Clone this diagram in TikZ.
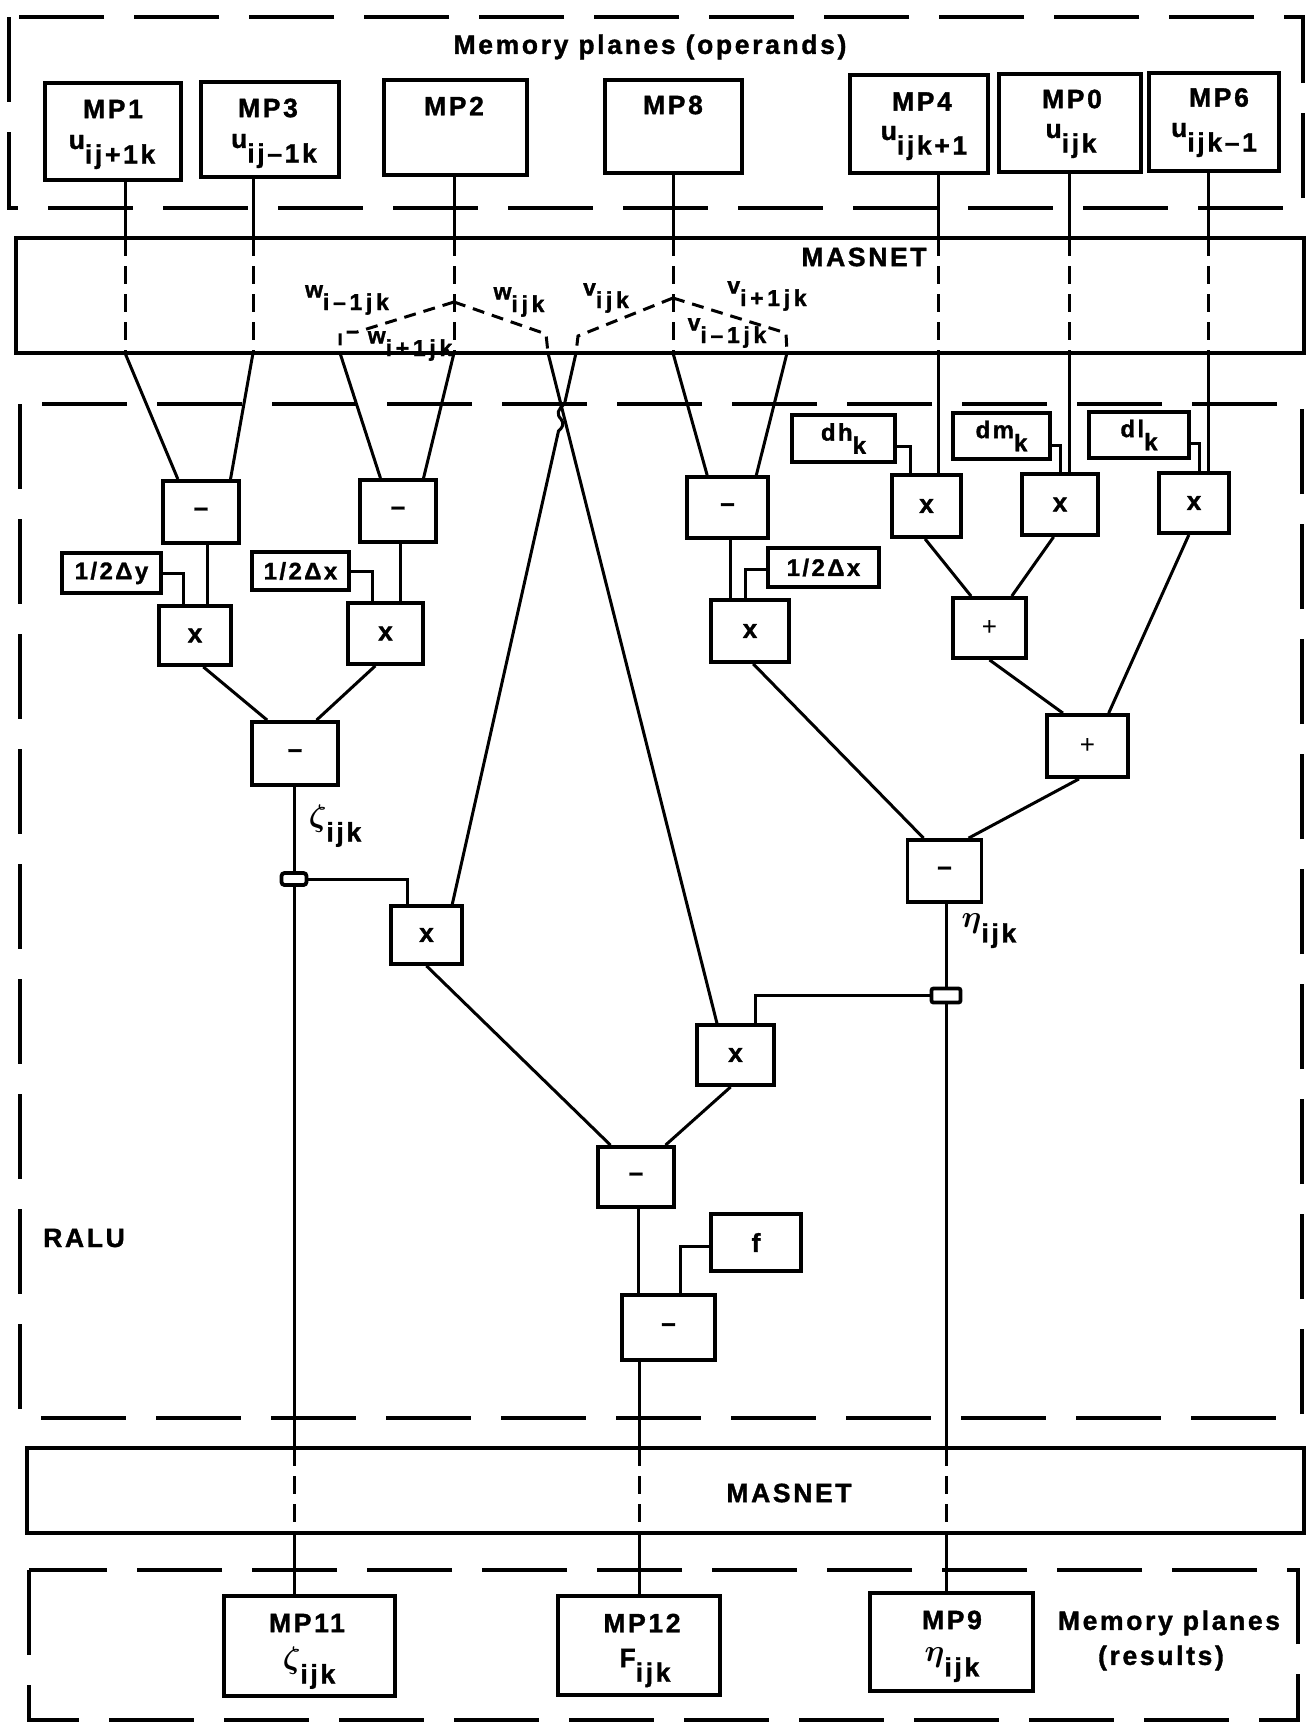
\documentclass[tikz,border=0pt]{standalone}
\usepackage{fontspec}
\usepackage{bm}
\usepackage{graphicx}
\setmainfont{Liberation Sans}[LetterSpace=10, BoldFeatures={FakeBold=1.3}]
\usetikzlibrary{calc}
\newcommand\sbs[2]{#1\raisebox{-0.55em}{#2}}
\newcommand\gk[1]{\scalebox{1.25}{$\bm{#1}$}}
\tikzset{
  box/.style={draw, line width=3.8pt, inner sep=0pt},
  op/.style={box, font=\fontsize{26}{26}\selectfont\bfseries},
  cst/.style={box, font=\fontsize{24}{24}\selectfont\bfseries},
  txt/.style={inner sep=0pt, font=\fontsize{26.5}{26.5}\selectfont\bfseries},
  ftxt/.style={inner sep=0pt, font=\fontsize{23}{23}\selectfont\bfseries\addfontfeature{LetterSpace=16}},
  wire/.style={line width=3pt},
  mwire/.style={line width=3pt, dash pattern=on 18pt off 10pt},
  fwire/.style={line width=3pt, dash pattern=on 12pt off 8pt},
  frame/.style={line width=4pt, dash pattern=on 85pt off 30pt},
  junc/.style={draw, line width=3.8pt, inner sep=0pt, rounded corners=3pt},
}
\begin{document}
\begin{tikzpicture}[x=1pt,y=-1pt]
\useasboundingbox (0,0) rectangle (1309,1725);
\fill[white] (0,0) rectangle (1309,1725);

% ---------- top: memory planes (operands)
\draw[frame] (9,17) rectangle (1303,208);
\node[txt] (title) at (650,47) {Memory planes (operands)};

\node[box, minimum width=136pt, minimum height=97pt] (mp1) at (113,131.5) {};
\node[box, minimum width=138pt, minimum height=95pt] (mp3) at (270,129.5) {};
\node[box, minimum width=143pt, minimum height=95pt] (mp2) at (455.5,127.5) {};
\node[box, minimum width=137pt, minimum height=93pt] (mp8) at (673.5,126.5) {};
\node[box, minimum width=138pt, minimum height=98pt] (mp4) at (919,124) {};
\node[box, minimum width=142pt, minimum height=98pt] (mp0) at (1070,123) {};
\node[box, minimum width=130pt, minimum height=98pt] (mp6) at (1214,122) {};

\node[txt] (t1) at (113,109) {MP1};
\node[txt] (s1) at (112,152) {\sbs{u}{ij+1k}};
\node[txt] (t3) at (268,108) {MP3};
\node[txt] (s3) at (274,151) {\sbs{u}{ij–1k}};
\node[txt] (t2) at (454,106) {MP2};
\node[txt] (t8) at (673,105) {MP8};
\node[txt] (t4) at (922,101.5) {MP4};
\node[txt] (s4) at (924,143) {\sbs{u}{ijk+1}};
\node[txt] (t0) at (1072,99) {MP0};
\node[txt] (s0) at (1071,141) {\sbs{u}{ijk}};
\node[txt] (t6) at (1219,97.5) {MP6};
\node[txt] (s6) at (1214,140) {\sbs{u}{ijk–1}};

% ---------- MASNET (top)
\node[box, minimum width=1288pt, minimum height=115pt] (net1) at (660,295.5) {};
\node[txt] (net1lab) at (864,257) {MASNET};

\coordinate (a1) at (125,238);  \coordinate (b1) at (125,353);
\coordinate (a2) at (253,238);  \coordinate (b2) at (253,353);
\coordinate (a3) at (454,238);  \coordinate (b3) at (454,353);
\coordinate (a4) at (673,238);  \coordinate (b4) at (673,353);
\coordinate (a5) at (938,238);  \coordinate (b5) at (938,353);
\coordinate (a6) at (1069,238); \coordinate (b6) at (1069,353);
\coordinate (a7) at (1208,238); \coordinate (b7) at (1208,353);
\coordinate (wap) at (454,302);
\coordinate (vap) at (673,298);
\coordinate (bw1) at (340,353);
\coordinate (bw2) at (548,353);
\coordinate (bv1) at (576,353);
\coordinate (bv2) at (787,353);

\draw[wire] (mp1.south -| a1) -- (a1);
\draw[wire] (mp3.south -| a2) -- (a2);
\draw[wire] (mp2.south -| a3) -- (a3);
\draw[wire] (mp8.south -| a4) -- (a4);
\draw[wire] (mp4.south -| a5) -- (a5);
\draw[wire] (mp0.south -| a6) -- (a6);
\draw[wire] (mp6.south -| a7) -- (a7);

\foreach \i in {1,2,3,4,5,6,7} { \draw[mwire] (a\i) -- (b\i); }

% forks
\draw[fwire] (wap) -- (357,332) -- (340,332) -- (bw1);
\draw[fwire] (wap) -- (546,334) -- (bw2);
\draw[fwire] (vap) -- (578,336) -- (bv1);
\draw[fwire] (vap) -- (786,333) -- (bv2);

\node[ftxt] (lw1) at (347,300) {\sbs{w}{i–1jk}};
\node[ftxt] (lw2) at (519,302) {\sbs{w}{ijk}};
\node[ftxt] (lw3) at (410,346) {\sbs{w}{i+1jk}};
\node[ftxt] (lv1) at (606,298) {\sbs{v}{ijk}};
\node[ftxt] (lv2) at (767,296) {\sbs{v}{i+1jk}};
\node[ftxt] (lv3) at (727,333) {\sbs{v}{i–1jk}};

% ---------- RALU
\draw[frame] (20,404) rectangle (1302,1418);
\node[txt] (ralu) at (84,1238) {RALU};

\node[op, minimum width=76pt, minimum height=62pt] (A) at (201,512) {–};
\node[op, minimum width=76pt, minimum height=62pt] (B) at (398,511) {–};
\node[cst, minimum width=99pt, minimum height=40pt] (Dy) at (111.5,573) {1/2Δy};
\node[op, minimum width=72pt, minimum height=59pt] (C) at (195,635.5) {x};
\node[cst, minimum width=97pt, minimum height=38pt] (Dx) at (300.5,571) {1/2Δx};
\node[op, minimum width=75pt, minimum height=61pt] (D) at (385.5,633.5) {x};
\node[op, minimum width=86pt, minimum height=63pt] (E) at (295,753.5) {–};
\node[op, minimum width=81pt, minimum height=61pt] (F) at (727.5,507.5) {–};
\node[cst, minimum width=103pt, minimum height=47pt] (dh) at (843.5,438.5) {\raisebox{0.25em}{\sbs{dh}{k}}};
\node[op, minimum width=69pt, minimum height=62pt] (G) at (926.5,506) {x};
\node[cst, minimum width=97pt, minimum height=46pt] (dm) at (1001.5,436) {\raisebox{0.25em}{\sbs{dm}{k}}};
\node[op, minimum width=76pt, minimum height=61pt] (H) at (1060,504.5) {x};
\node[cst, minimum width=100pt, minimum height=46pt] (dl) at (1139,435) {\raisebox{0.25em}{\sbs{dl}{k}}};
\node[op, minimum width=70pt, minimum height=60pt] (I) at (1194,503) {x};
\node[cst, minimum width=111pt, minimum height=39pt] (Dx2) at (823.5,567.5) {1/2Δx};
\node[op, minimum width=78pt, minimum height=62pt] (J) at (750,631) {x};
\node[op, minimum width=73pt, minimum height=60pt] (K) at (989.5,628) {\mdseries +};
\node[op, minimum width=81pt, minimum height=62pt] (L) at (1087.5,746) {\mdseries +};
\node[op, minimum width=74pt, minimum height=62pt] (M) at (944.5,871) {–};
\node[op, minimum width=71pt, minimum height=58pt] (N) at (426.5,935) {x};
\node[op, minimum width=77pt, minimum height=60pt] (O) at (735.5,1055) {x};
\node[op, minimum width=76pt, minimum height=60pt] (P) at (636,1177) {–};
\node[op, minimum width=90pt, minimum height=57pt] (fb) at (756,1242.5) {f};
\node[op, minimum width=93pt, minimum height=65pt] (Q) at (668.5,1327.5) {–};

\node[junc, minimum width=25pt, minimum height=12pt] (zj) at (294,879) {};
\node[junc, rounded corners=2pt, minimum width=29pt, minimum height=14pt] (ej) at (946,995.5) {};

\node[txt] (zl) at (335,826) {\sbs{\gk{\zeta}}{ijk}};
\node[txt] (el) at (989,931) {\sbs{\gk{\eta}}{ijk}};

% inputs from MASNET
\draw[wire] (b1) -- ($(A.north west)!0.21!(A.north east)$);
\draw[wire] (b2) -- ($(A.north west)!0.87!(A.north east)$);
\draw[wire] (bw1) -- ($(B.north west)!0.28!(B.north east)$);
\draw[wire] (b3) -- ($(B.north west)!0.82!(B.north east)$);
\draw[wire] (b4) -- ($(F.north west)!0.26!(F.north east)$);
\draw[wire] (bv2) -- ($(F.north west)!0.84!(F.north east)$);
\draw[wire] (b5) -- (G.north -| b5);
\draw[wire] (b6) -- (H.north -| b6);
\draw[wire] (b7) -- (I.north -| b7);
\draw[wire] (bw2) -- ($(O.north west)!0.27!(O.north east)$);
\draw[wire] (bv1) -- (564.5,404) .. controls (558,409) and (556,414) .. (561,419)
   .. controls (565,424) and (562,428) .. (558.5,431)
   -- ($(N.north west)!0.845!(N.north east)$);

% constants
\draw[wire] (Dy.east) -| ($(C.north west)!0.35!(C.north east)$);
\draw[wire] (Dx.east) -| ($(D.north west)!0.33!(D.north east)$);
\draw[wire] ($(dh.east)+(0,8)$) -| ($(G.north west)!0.275!(G.north east)$);
\draw[wire] ($(dm.east)+(0,9)$) -| ($(H.north west)!0.51!(H.north east)$);
\draw[wire] ($(dl.east)+(0,8)$) -| ($(I.north west)!0.57!(I.north east)$);
\draw[wire] ($(Dx2.west)+(0,1.5)$) -| ($(J.north west)!0.45!(J.north east)$);
\draw[wire] ($(fb.west)+(0,4)$) -| ($(Q.north west)!0.62!(Q.north east)$);

% verticals
\draw[wire] ($(A.south west)!0.58!(A.south east)$) coordinate (va) -- (va |- C.north);
\draw[wire] ($(B.south west)!0.53!(B.south east)$) coordinate (vb) -- (vb |- D.north);
\draw[wire] ($(F.south west)!0.54!(F.south east)$) coordinate (vf) -- (vf |- J.north);
\draw[wire] ($(P.south west)!0.53!(P.south east)$) coordinate (vp) -- (vp |- Q.north);
\draw[wire] (E.south -| zj) -- (zj.north);
\draw[wire] (M.south -| ej) -- (ej.north);

% diagonals
\draw[wire] ($(C.south west)!0.61!(C.south east)$) -- ($(E.north west)!0.19!(E.north east)$);
\draw[wire] ($(D.south west)!0.37!(D.south east)$) -- ($(E.north west)!0.74!(E.north east)$);
\draw[wire] ($(G.south west)!0.48!(G.south east)$) -- ($(K.north west)!0.26!(K.north east)$);
\draw[wire] ($(H.south west)!0.42!(H.south east)$) -- ($(K.north west)!0.79!(K.north east)$);
\draw[wire] ($(K.south west)!0.5!(K.south east)$) -- ($(L.north west)!0.21!(L.north east)$);
\draw[wire] ($(I.south west)!0.43!(I.south east)$) -- ($(L.north west)!0.75!(L.north east)$);
\draw[wire] ($(J.south west)!0.54!(J.south east)$) -- ($(M.north west)!0.23!(M.north east)$);
\draw[wire] ($(L.south west)!0.4!(L.south east)$) -- ($(M.north west)!0.81!(M.north east)$);
\draw[wire] ($(N.south west)!0.5!(N.south east)$) -- ($(P.north west)!0.18!(P.north east)$);
\draw[wire] ($(O.south west)!0.44!(O.south east)$) -- ($(P.north west)!0.87!(P.north east)$);

% junction taps
\draw[wire] (zj.east) -| ($(N.north west)!0.25!(N.north east)$);
\draw[wire] (ej.west) -| ($(O.north west)!0.75!(O.north east)$);

% ---------- MASNET (bottom)
\node[box, minimum width=1277pt, minimum height=85pt] (net2) at (665.5,1490.5) {};
\node[txt] (net2lab) at (789,1493) {MASNET};

\coordinate (c1) at (294,1448); \coordinate (d1) at (294,1533);
\coordinate (c2) at (639,1448); \coordinate (d2) at (639,1533);
\coordinate (c3) at (946,1448); \coordinate (d3) at (946,1533);

\draw[wire] (zj.south) -- (c1);
\draw[wire] (Q.south -| c2) -- (c2);
\draw[wire] (ej.south) -- (c3);
\draw[mwire] (c1) -- (d1);
\draw[mwire] (c2) -- (d2);
\draw[mwire] (c3) -- (d3);

% ---------- bottom: memory planes (results)
\draw[frame] (29,1570) rectangle (1298,1720);
\node[box, minimum width=171pt, minimum height=100pt] (mp11) at (309.5,1646) {};
\node[box, minimum width=162pt, minimum height=99pt] (mp12) at (639,1645.5) {};
\node[box, minimum width=163pt, minimum height=98pt] (mp9) at (951.5,1642) {};
\draw[wire] (d1) -- (mp11.north -| d1);
\draw[wire] (d2) -- (mp12.north -| d2);
\draw[wire] (d3) -- (mp9.north -| d3);

\node[txt] (t11) at (307,1623) {MP11};
\node[txt] (s11) at (309,1668) {\sbs{\gk{\zeta}}{ijk}};
\node[txt] (t12) at (642,1623) {MP12};
\node[txt] (s12) at (645,1668) {\sbs{F}{ijk}};
\node[txt] (t9) at (952,1620) {MP9};
\node[txt] (s9) at (952,1665) {\sbs{\gk{\eta}}{ijk}};
\node[txt] (res1) at (1169,1623) {Memory planes};
\node[txt] (res2) at (1161,1658) {(results)};
\end{tikzpicture}
\end{document}
